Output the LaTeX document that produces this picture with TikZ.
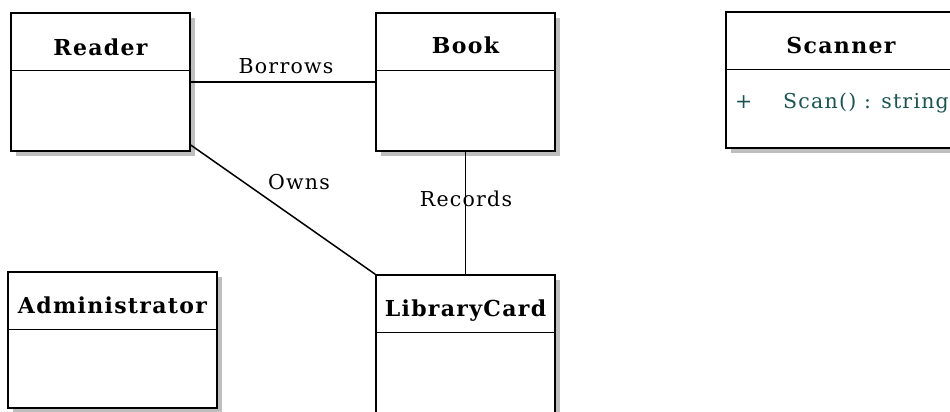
\documentclass[tikz,border=0pt]{standalone}
\usepackage{fontspec}
\setmainfont{DejaVu Serif}[LetterSpace=6]
\usetikzlibrary{shadows}
\definecolor{shadowgray}{RGB}{190,190,190}
\definecolor{attrteal}{RGB}{28,84,84}
\tikzset{
  umlbox/.style={draw=black, line width=1.4pt, fill=white, rectangle, inner sep=0pt,
    drop shadow={shadow xshift=5pt, shadow yshift=-5pt, fill=shadowgray, opacity=1}},
  hdr/.style={font=\fontsize{22}{24}\selectfont\bfseries, anchor=base, inner sep=0pt},
  lbl/.style={font=\fontsize{20.5}{23}\selectfont, anchor=base, inner sep=0pt},
  attr/.style={font=\fontsize{20.5}{23}\selectfont, text=attrteal, anchor=base west, inner sep=0pt},
  divider/.style={line width=1.4pt},
  assoc/.style={line width=1.5pt}
}
\begin{document}
\begin{tikzpicture}[x=1pt,y=-1pt]
\useasboundingbox (0,0) rectangle (950,412);
\clip (0,0) rectangle (950,412);
% boxes
\node[umlbox, minimum width=179pt, minimum height=138pt] (reader) at (100.5,82) {};
\node[umlbox, minimum width=179pt, minimum height=138pt] (book) at (465.5,82) {};
\node[umlbox, minimum width=240pt, minimum height=136pt] (scanner) at (846,80) {};
\node[umlbox, minimum width=209pt, minimum height=136pt] (admin) at (112.5,340) {};
\node[umlbox, minimum width=179pt, minimum height=160pt] (card) at (465.5,355) {};
% dividers
\draw[divider] ([yshift=-58pt]reader.north west) -- ([yshift=-58pt]reader.north east);
\draw[divider] ([yshift=-58pt]book.north west) -- ([yshift=-58pt]book.north east);
\draw[divider] ([yshift=-58pt]scanner.north west) -- ([yshift=-58pt]scanner.north east);
\draw[divider] ([yshift=-58pt]admin.north west) -- ([yshift=-58pt]admin.north east);
\draw[divider] ([yshift=-58pt]card.north west) -- ([yshift=-58pt]card.north east);
% headers
\node[hdr] (readerT) at ([yshift=-43pt]reader.north) {Reader};
\node[hdr] (bookT) at ([yshift=-41pt]book.north) {Book};
\node[hdr] (scannerT) at (841,53) {Scanner};
\node[hdr] (adminT) at ([yshift=-42pt]admin.north) {Administrator};
\node[hdr] (cardT) at ([yshift=-42pt]card.north) {LibraryCard};
% attribute
\node[attr] (plus) at (735,108) {+};
\node[attr] (scanop) at (783,108) {Scan() : string};
% associations
\draw[assoc] (reader) -- (book);
\draw[assoc] (reader) -- (card.north west);
\draw[assoc] (book) -- (card);
% labels
\node[lbl] (borrows) at (286,74) {Borrows};
\node[lbl] (owns) at (299,189) {Owns};
\node[lbl] (records) at (466,206) {Records};
\end{tikzpicture}
\end{document}
